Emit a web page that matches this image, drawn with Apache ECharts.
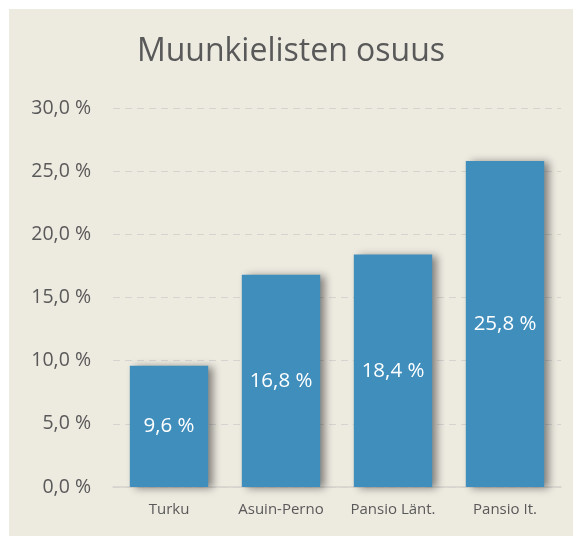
<!DOCTYPE html>
<html>
<head>
  <meta charset="utf-8">
  <script src="https://cdn.jsdelivr.net/npm/echarts@6/dist/echarts.min.js"></script>
  <style>
    html, body { margin: 0; padding: 0; background: #ffffff; }
    #main {
      position: absolute; left: 9px; top: 9px;
      width: 564px; height: 527px;
      background: #EDEAE0;
    }
  </style>
</head>
<body>
  <div id="main"></div>
  <script>
    // data
    var categories = ['Turku', 'Asuin-Perno', 'Pansio Länt.', 'Pansio It.'];
    var shares = [9.6, 16.8, 18.4, 25.8];

    function pct(v) {
      return v.toFixed(1).replace('.', ',') + ' %';
    }

    var myChart = echarts.init(document.getElementById('main'));

    var option = {
      animation: false,
      textStyle: { fontFamily: 'Open Sans' },
      title: {
        text: 'Muunkielisten osuus',
        left: 'center',
        top: 22,
        textStyle: { fontSize: 32, fontWeight: 'normal', color: '#595959', fontFamily: 'Open Sans' }
      },
      grid: { left: 104, right: 12, top: 99, bottom: 49, containLabel: false },
      xAxis: {
        type: 'category',
        data: categories,
        axisTick: { show: false },
        axisLine: { lineStyle: { color: '#D4D2CC', width: 1.5 } },
        axisLabel: { color: '#595959', fontSize: 15, margin: 15, interval: 0 }
      },
      yAxis: {
        type: 'value',
        min: 0,
        max: 30,
        interval: 5,
        axisLabel: { color: '#595959', fontSize: 19.5, margin: 22, formatter: pct },
        splitLine: { lineStyle: { color: '#D6D4D0', type: [7, 5], width: 1.2 } }
      },
      series: [{
        type: 'bar',
        data: shares,
        barWidth: '70%',
        itemStyle: {
          color: '#3F8EBC',
          shadowColor: 'rgba(0,0,0,0.45)',
          shadowBlur: 8,
          shadowOffsetX: 5,
          shadowOffsetY: 1
        },
        label: {
          show: true,
          position: 'inside',
          color: '#ffffff',
          fontSize: 20.5,
          formatter: function (p) { return pct(p.value); }
        }
      }]
    };

    myChart.setOption(option);
  </script>
</body>
</html>
